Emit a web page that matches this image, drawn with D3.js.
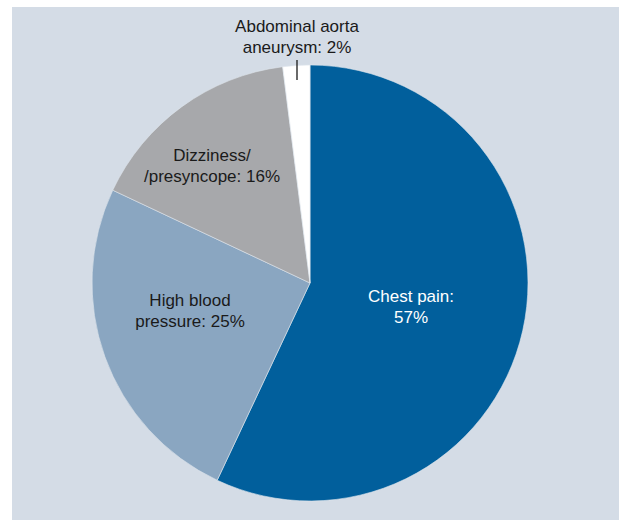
<!DOCTYPE html>
<html><head><meta charset="utf-8">
<script src="https://cdn.jsdelivr.net/npm/d3@7"></script>
<style>html,body{margin:0;padding:0;background:#fff;}</style>
</head><body>
<script>
const categories = ["Chest pain", "High blood pressure", "Dizziness/presyncope", "Abdominal aorta aneurysm"];
const values = [57, 25, 16, 2];
const colors = ["#015f9c", "#8aa6c1", "#a7a8ab", "#ffffff"];
const labelLines = [["Chest pain:", "57%"], ["High blood", "pressure: 25%"], ["Dizziness/", "/presyncope: 16%"], ["Abdominal aorta", "aneurysm: 2%"]];

const W = 619, H = 520;
const svg = d3.select("body").append("svg").attr("width", W).attr("height", H);
svg.append("rect").attr("x", 12).attr("y", 7).attr("width", W - 12).attr("height", H - 7).attr("fill", "#d4dce6");

const cx = 310, cy = 283, R = 218;
const data = categories.map((c, i) => ({c, v: values[i], i}));
const pie = d3.pie().value(d => d.v).sort(null);
const arcs = pie(data);
const arc = d3.arc().innerRadius(0).outerRadius(R);
const g = svg.append("g").attr("transform", `translate(${cx},${cy})`);
g.selectAll("path").data(arcs).join("path")
  .attr("d", arc).attr("fill", d => colors[d.data.i])
  .attr("stroke", "#dfe5ec").attr("stroke-width", 0.6);

// label anchor (first-line baseline) relative to pie centre — layout only
const labelAnchor = [[101, 19], [-120, 23], [-98, -122], [-13, -251]];
const lineH = 21;
const font = "'Liberation Sans', Arial, sans-serif";
arcs.forEach((a, k) => {
  const [x, y] = labelAnchor[k];
  const t = g.append("text").attr("text-anchor", "middle")
    .attr("font-family", font).attr("font-size", 17)
    .attr("fill", k === 0 ? "#ffffff" : "#1a1a1a");
  labelLines[k].forEach((ln, j) => {
    t.append("tspan").attr("x", x).attr("y", y + j * lineH).text(ln);
  });
  if (k === 3) {
    g.append("line").attr("x1", x).attr("x2", x)
      .attr("y1", y + lineH + 7).attr("y2", y + lineH + 27)
      .attr("stroke", "#1a1a1a").attr("stroke-width", 1.3);
  }
});
</script>
</body></html>
